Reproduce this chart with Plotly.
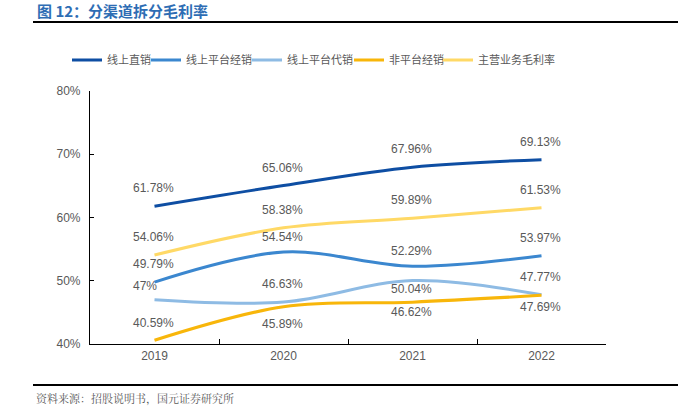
import plotly.graph_objects as go

years = ["2019", "2020", "2021", "2022"]
direct = [61.78, 65.06, 67.96, 69.13]
platform_dist = [49.79, 54.54, 52.29, 53.97]
platform_consign = [47.00, 46.63, 50.04, 47.77]
offline_dist = [40.59, 45.89, 46.62, 47.69]
overall = [54.06, 58.38, 59.89, 61.53]

names = ["线上直销", "线上平台经销", "线上平台代销", "非平台经销", "主营业务毛利率"]
colors = ["#0E4EA3", "#3B87CF", "#8EBBE4", "#F8B60A", "#FFD966"]
series = [direct, platform_dist, platform_consign, offline_dist, overall]
# vertical pixel offset of each data label from its point (+ above, - below)
label_shift = [
    [18, 18, 18, 18],
    [18, 15, 15, 18],
    [14, 18, -8, 18],
    [17, -17, -10, -12],
    [18, 18, 18, 18],
]
legend_x = [75, 154, 255, 357, 446]

W, H = 678, 409
L, R, T, B = 90, 72, 91, 65
pw, ph = W - L - R, H - T - B


def px(x):
    return (x - L) / pw


def py(y):
    return (H - B - y) / ph


fig = go.Figure()
xs = list(range(len(years)))
layout_legends = {}
for i, (name, col, vals, shifts) in enumerate(zip(names, colors, series, label_shift)):
    lg = "legend" if i == 0 else "legend%d" % (i + 1)
    fig.add_trace(go.Scatter(
        x=xs, y=vals, name=name, mode="lines", legend=lg,
        line=dict(color=col, width=3, shape="spline", smoothing=1),
    ))
    layout_legends[lg] = dict(
        orientation="h", x=px(legend_x[i] - 8), y=py(60), xanchor="left", yanchor="middle",
        font=dict(family="Noto Sans CJK SC", size=11, color="#595959"),
        itemwidth=30, bgcolor="rgba(0,0,0,0)", borderwidth=0)
    for xv, v, s in zip(xs, vals, shifts):
        lab = ("%g%%" % v) if v == int(v) else ("%.2f%%" % v)
        fig.add_annotation(x=xv, y=v, text=lab, showarrow=False,
                           xanchor="left", xshift=-24,
                           yshift=s, yanchor="middle",
                           font=dict(family="Liberation Sans, Arial", size=12, color="#595959"))

fig.update_layout(
    width=W, height=H,
    margin=dict(l=L, r=R, t=T, b=B),
    plot_bgcolor="white", paper_bgcolor="white",
    showlegend=True,
    xaxis=dict(range=[-0.5, 3.5], tickmode="array", tickvals=xs, ticktext=years,
               showline=True, linecolor="#000000", linewidth=1.2, ticks="",
               showgrid=False, zeroline=False,
               tickfont=dict(family="Liberation Sans, Arial", size=12, color="#595959")),
    xaxis2=dict(range=[-0.5, 3.5], overlaying="x", tickmode="array",
                tickvals=[0.5, 1.5, 2.5, 3.5], ticks="inside", ticklen=5,
                tickcolor="#000000", showticklabels=False, showgrid=False,
                zeroline=False, side="bottom", anchor="y"),
    yaxis=dict(range=[40, 80], tickvals=[40, 50, 60, 70, 80],
               ticktext=["40%", "50%", "60%", "70%", "80%"],
               showline=True, linecolor="#000000", linewidth=1.2,
               ticks="inside", ticklen=4, tickcolor="#000000",
               showgrid=False, zeroline=False, ticklabelstandoff=6,
               tickfont=dict(family="Liberation Sans, Arial", size=12, color="#595959")),
    **layout_legends,
)
fig.add_trace(go.Scatter(x=[0], y=[None], xaxis="x2", showlegend=False, hoverinfo="skip"))

fig.add_annotation(x=px(35), y=py(10), xref="paper", yref="paper", xanchor="left",
                   yanchor="middle", showarrow=False,
                   text="<b>图 12：分渠道拆分毛利率</b>",
                   font=dict(family="Noto Sans CJK SC", size=15, color="#2E6DB4"))
fig.add_annotation(x=px(34), y=py(398), xref="paper", yref="paper", xanchor="left",
                   yanchor="middle", showarrow=False,
                   text="资料来源：招股说明书，国元证券研究所",
                   font=dict(family="Noto Serif CJK SC, Noto Sans CJK SC", size=11, color="#595959"))
fig.add_shape(type="line", xref="paper", yref="paper", x0=px(33), x1=px(678),
              y0=py(22), y1=py(22), line=dict(color="#000000", width=2))
fig.add_shape(type="line", xref="paper", yref="paper", x0=px(33), x1=px(678),
              y0=py(385), y1=py(385), line=dict(color="#000000", width=2))

fig.write_html("out.html", config={"displayModeBar": False},
               post_script="document.body.style.margin='0px';document.body.style.overflow='hidden';")
